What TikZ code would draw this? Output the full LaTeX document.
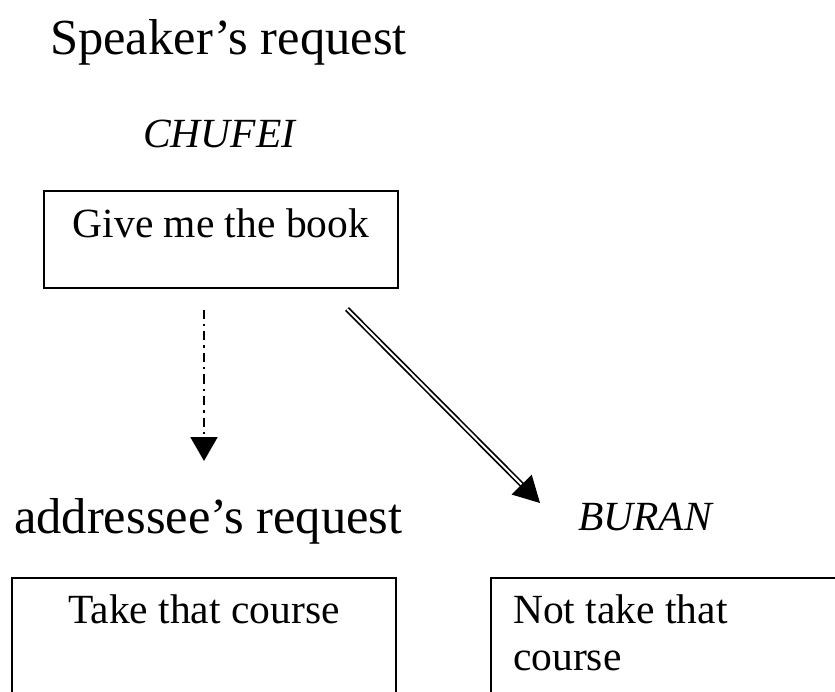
\documentclass[tikz,border=0pt]{standalone}
\usepackage{fontspec}
\setmainfont{Liberation Serif}
\usetikzlibrary{arrows.meta,calc}
\tikzset{
  heading/.style={anchor=base west, inner sep=0pt, font=\fontsize{50.5}{60}\selectfont},
  tag/.style={anchor=base west, inner sep=0pt, font=\fontsize{41.5}{50}\selectfont\itshape},
  boxtext/.style={inner sep=0pt, font=\fontsize{41.5}{50}\selectfont},
  frame/.style={draw, line width=1.8pt, inner sep=0pt, anchor=north west},
  dashdot/.style={line width=2.2pt, dash pattern=on 9pt off 5pt on 2.5pt off 5pt,
    -{Triangle[length=24pt,width=27pt]}},
  dbl/.style={double, line width=1.7pt, double distance=2pt},
  headtip/.style={-{Triangle[length=26pt,width=28pt]}, line width=1pt}
}
\begin{document}
\begin{tikzpicture}[x=1pt,y=-1pt]
  \useasboundingbox (0,0) rectangle (835,692);
  \clip (0,0) rectangle (835,692);

  % speaker side
  \node[heading] (spk) at (50,55) {Speaker’s request};
  \node[tag] (chufei) at (143,148) {CHUFEI};
  \node[frame, minimum width=354pt, minimum height=97pt] (give) at (43,190) {};
  \node[boxtext, anchor=base] (givetxt) at (give.north |- 0,238) {Give me the book};

  % addressee side
  \node[heading] (adr) at (14,533) {addressee’s request};
  \node[tag] (buran) at (578,530) {BURAN};
  \node[frame, minimum width=384pt, minimum height=160pt] (take) at (11,577) {};
  \node[boxtext, anchor=base] (taketxt) at (take.north |- 0,623) {Take that course};
  \node[frame, minimum width=400pt, minimum height=160pt] (nottake) at (490,577) {};
  \node[boxtext, anchor=base west] (nottxt1) at (513,623) {Not take that};
  \node[boxtext, anchor=base west] (nottxt2) at (513,670) {course};

  % connectors
  \coordinate (dstart) at (204,310);
  \coordinate (dend) at (204,461);
  \draw[dashdot] (dstart) -- (dend);

  \coordinate (sstart) at (347,309);
  \coordinate (stip) at (540,503);
  \coordinate (sbase) at ($(stip)!25pt!(sstart)$);
  \draw[dbl] (sstart) -- ($(stip)!21pt!(sstart)$);
  \draw[headtip] (sbase) -- (stip);
\end{tikzpicture}
\end{document}
